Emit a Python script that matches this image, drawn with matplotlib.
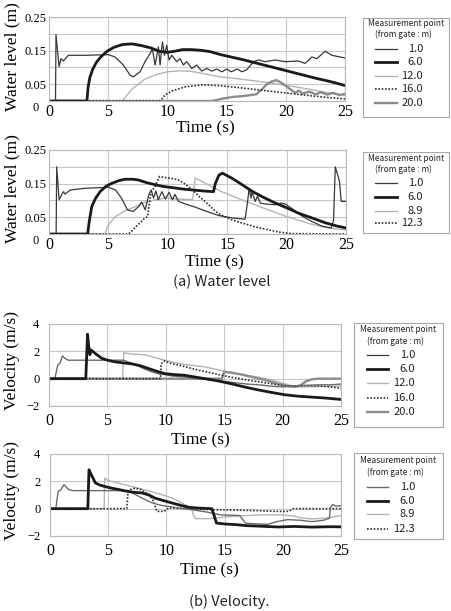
import matplotlib.pyplot as plt

plt.rcParams['font.family'] = ['Liberation Serif', 'DejaVu Serif']

W, H = 451, 611

# ---------------- (a) water level, upper panel ----------------
wa_t_10 = [0, 0.55, 0.59, 0.85, 1.01, 1.21, 1.63, 3.04, 5.01, 5.58, 6.28, 6.85, 7.13, 7.69, 8.11, 8.54,
           8.73, 8.96, 9.24, 9.38, 9.58, 9.75, 9.94, 10.14, 10.37, 10.79, 11.07, 11.35, 11.63, 12.06,
           12.48, 12.9, 13.32, 13.75, 14.17, 14.6, 15.0, 15.4, 15.9, 16.3, 16.7, 17.27, 17.69, 18.25,
           19.1, 19.94, 21.07, 21.63, 22.2, 22.62, 23.32, 23.89, 25.0]
wa_v_10 = [0, 0, 0.198, 0.102, 0.126, 0.119, 0.136, 0.136, 0.138, 0.131, 0.107, 0.077, 0.072, 0.087,
           0.117, 0.141, 0.156, 0.107, 0.161, 0.107, 0.176, 0.136, 0.166, 0.122, 0.136, 0.117, 0.126,
           0.107, 0.117, 0.097, 0.107, 0.089, 0.097, 0.089, 0.095, 0.087, 0.095, 0.087, 0.095, 0.087,
           0.093, 0.117, 0.122, 0.117, 0.122, 0.117, 0.119, 0.112, 0.131, 0.126, 0.148, 0.136, 0.128]
wa_t_60 = [0, 3.2, 3.3, 3.45, 3.7, 4.0, 4.4, 4.9, 5.5, 6.2, 7.0, 7.8, 8.6, 9.3, 10.0, 10.6, 11.3, 12.0,
           12.8, 13.6, 14.5, 15.5, 16.5, 17.5, 18.5, 19.5, 20.5, 21.5, 22.5, 23.5, 24.3, 25.0]
wa_v_60 = [0, 0, 0.04, 0.07, 0.095, 0.115, 0.132, 0.148, 0.16, 0.168, 0.17, 0.165, 0.158, 0.148, 0.145,
           0.148, 0.153, 0.153, 0.151, 0.147, 0.138, 0.13, 0.122, 0.113, 0.104, 0.095, 0.086, 0.077,
           0.068, 0.06, 0.053, 0.046]
wa_t_120 = [0, 6.2, 7.0, 8.1, 9.0, 10.0, 11.0, 12.0, 13.0, 14.4, 16.0, 18.0, 20.0, 22.0, 23.5, 25.0]
wa_v_120 = [0, 0, 0.035, 0.065, 0.078, 0.087, 0.09, 0.088, 0.082, 0.072, 0.066, 0.057, 0.047, 0.035,
            0.025, 0.017]
wa_t_160 = [0, 9.4, 9.8, 10.4, 11.5, 12.9, 14.3, 16.0, 18.0, 20.0, 22.0, 24.0, 25.0]
wa_v_160 = [0, 0, 0.018, 0.03, 0.042, 0.048, 0.046, 0.04, 0.032, 0.024, 0.016, 0.009, 0.006]
wa_t_200 = [0, 13.8, 14.5, 15.5, 16.5, 17.5, 18.0, 18.4, 18.8, 19.2, 19.6, 20.0, 20.5, 20.8, 21.1,
            21.4, 22.0, 22.5, 23.0, 23.5, 24.0, 24.5, 25.0]
wa_v_200 = [0, 0, 0.006, 0.012, 0.015, 0.02, 0.035, 0.05, 0.058, 0.062, 0.055, 0.045, 0.032, 0.024,
            0.031, 0.022, 0.028, 0.02, 0.026, 0.019, 0.024, 0.018, 0.021]

# ---------------- (a) water level, lower panel ----------------
wb_t_10 = [0, 0.6, 0.65, 0.85, 1.2, 1.35, 1.8, 3.0, 5.0, 5.6, 6.1, 6.6, 7.1, 7.55, 7.8, 8.1, 8.4, 8.6,
           8.8, 9.0, 9.2, 9.5, 9.8, 10.1, 10.4, 10.6, 10.9, 11.5, 12.3, 13.2, 14.3, 15.4, 16.5, 16.7,
           16.85, 17.0, 17.1, 17.35, 17.55, 17.8, 18.25, 19.1, 19.5, 19.9, 20.6, 21.35, 22.2, 23.0,
           23.75, 23.95, 24.1, 24.3, 24.45, 24.6, 25.0]
wb_v_10 = [0, 0, 0.2, 0.102, 0.126, 0.119, 0.131, 0.136, 0.139, 0.131, 0.107, 0.072, 0.067, 0.082,
           0.095, 0.072, 0.117, 0.131, 0.107, 0.128, 0.102, 0.126, 0.104, 0.124, 0.102, 0.118, 0.097,
           0.089, 0.08, 0.068, 0.055, 0.048, 0.044, 0.092, 0.136, 0.107, 0.126, 0.097, 0.112, 0.092,
           0.089, 0.087, 0.092, 0.089, 0.072, 0.052, 0.036, 0.023, 0.018, 0.04, 0.2, 0.176, 0.156,
           0.097, 0.097]
wb_t_60 = [0, 3.25, 3.4, 3.6, 3.9, 4.3, 4.8, 5.3, 5.9, 6.4, 7.0, 7.5, 8.2, 9.0, 9.7, 10.4, 11.2, 12.1,
           13.0, 13.85, 14.0, 14.3, 14.6, 15.4, 16.2, 17.1, 18.0, 19.0, 20.0, 21.0, 22.2, 23.2, 24.2, 25.0]
wb_v_60 = [0, 0, 0.04, 0.082, 0.105, 0.126, 0.142, 0.151, 0.159, 0.163, 0.163, 0.161, 0.153, 0.146,
           0.141, 0.138, 0.134, 0.131, 0.128, 0.126, 0.15, 0.175, 0.181, 0.166, 0.148, 0.127, 0.11,
           0.093, 0.078, 0.062, 0.047, 0.034, 0.024, 0.018]
wb_t_89 = [0, 4.7, 5.0, 5.6, 6.4, 7.3, 8.1, 9.0, 9.8, 10.9, 12.1, 12.3, 12.9, 14.4, 16.0, 18.0, 20.0,
           22.0, 23.5, 25.0]
wb_v_89 = [0, 0, 0.028, 0.052, 0.069, 0.082, 0.095, 0.102, 0.107, 0.104, 0.102, 0.166, 0.156, 0.128,
           0.105, 0.078, 0.052, 0.03, 0.018, 0.012]
wb_t_123 = [0, 6.7, 7.0, 7.5, 8.0, 8.3, 8.45, 8.6, 8.9, 9.3, 9.8, 10.4, 10.9, 11.5, 12.1, 12.7, 13.2,
            14.0, 14.4, 15.4, 16.5, 17.5, 18.5, 19.5, 20.5, 25.0]
wb_v_123 = [0, 0, 0.01, 0.028, 0.045, 0.052, 0.09, 0.126, 0.14, 0.171, 0.168, 0.165, 0.161, 0.148,
            0.13, 0.11, 0.095, 0.068, 0.058, 0.042, 0.03, 0.02, 0.012, 0.005, 0.001, 0]

# ---------------- (b) velocity, upper panel ----------------
va_t_10 = [0, 0.5, 0.75, 0.95, 1.15, 1.35, 1.65, 2.0, 6.4, 7.0, 7.6, 8.2, 8.8, 9.4, 9.9, 10.5, 11.2,
           12.0, 13.0, 14.0, 15.0, 16.0, 17.0, 18.0, 19.0, 20.0, 21.0, 22.0, 23.0, 24.0, 25.0]
va_v_10 = [0, 0, 1.0, 1.15, 1.67, 1.5, 1.35, 1.35, 1.35, 1.15, 0.95, 0.7, 0.5, 0.35, 0.3, 0.2, 0.15,
           0.1, 0.0, -0.1, -0.2, -0.3, -0.4, -0.45, -0.55, -0.6, -0.55, -0.5, -0.45, -0.45, -0.4]
va_t_60 = [0, 3.15, 3.25, 3.3, 3.4, 3.5, 3.6, 3.95, 4.5, 5.0, 5.65, 6.4, 7.1, 7.8, 8.5, 9.2, 9.9, 10.7,
           11.6, 12.5, 13.35, 14.5, 15.6, 16.7, 17.9, 19.0, 20.2, 21.3, 22.5, 23.7, 25.0]
va_v_60 = [0, 0, 2.2, 3.25, 2.4, 1.75, 2.1, 1.85, 1.5, 1.35, 1.23, 1.15, 1.08, 0.95, 0.75, 0.55, 0.37,
           0.3, 0.25, 0.12, 0.0, -0.17, -0.37, -0.6, -0.82, -1.0, -1.18, -1.28, -1.35, -1.42, -1.52]
va_t_120 = [0, 6.3, 6.4, 7.0, 8.2, 9.9, 11.5, 13.35, 15.0, 16.5, 18.0, 19.5, 20.5, 21.2, 22.0, 25.0]
va_v_120 = [0, 0, 1.9, 1.8, 1.75, 1.35, 1.05, 0.86, 0.55, 0.3, 0.1, -0.2, -0.45, -0.6, -0.6, -0.55]
va_t_160 = [0, 9.55, 9.6, 9.9, 10.3, 11.3, 12.9, 14.0, 15.5, 17.0, 18.5, 20.3, 22.0, 23.5, 25.0]
va_v_160 = [0, 0, 1.1, 1.3, 1.15, 0.95, 0.6, 0.4, 0.12, -0.1, -0.3, -0.55, -0.5, -0.55, -0.7]
va_t_200 = [0, 14.8, 15.0, 15.5, 16.5, 17.5, 18.5, 19.5, 20.5, 21.0, 21.5, 22.0, 22.5, 23.0, 25.0]
va_v_200 = [0, 0, 0.5, 0.45, 0.3, 0.1, -0.1, -0.35, -0.55, -0.6, -0.5, -0.2, -0.05, 0.0, 0.0]

# ---------------- (b) velocity, lower panel ----------------
vb_t_10 = [0, 0.5, 0.7, 0.9, 1.2, 1.6, 2.0, 6.6, 7.2, 7.9, 8.7, 9.5, 10.5, 11.5, 12.5, 13.5, 14.7,
           16.3, 16.8, 18.7, 19.5, 20.4, 21.5, 22.5, 23.5, 24.0, 24.1, 24.3, 24.6, 25.0]
vb_v_10 = [0, 0, 1.27, 1.35, 1.75, 1.4, 1.32, 1.32, 1.1, 0.78, 0.45, 0.25, 0.12, 0.0, -0.12, -0.25,
           -0.46, -0.5, -1.07, -1.15, -0.95, -0.8, -0.85, -0.95, -0.85, -0.7, 0.1, 0.3, 0.18, 0.22]
vb_t_60 = [0, 3.25, 3.3, 3.35, 3.5, 3.6, 3.9, 4.3, 4.8, 5.3, 5.9, 6.45, 7.2, 7.9, 8.5, 9.0, 9.7, 10.5,
           11.2, 11.9, 12.6, 13.3, 13.9, 14.1, 14.3, 15.0, 16.0, 16.8, 18.0, 19.6, 21.0, 22.5, 24.0, 25.0]
vb_v_60 = [0, 0, 1.5, 2.85, 2.55, 2.4, 1.88, 1.72, 1.6, 1.5, 1.4, 1.3, 1.2, 1.15, 1.0, 0.78, 0.6, 0.41,
           0.25, 0.1, 0.05, 0.02, 0.0, -0.5, -1.05, -1.12, -1.17, -1.24, -1.28, -1.34, -1.3, -1.35,
           -1.32, -1.33]
vb_t_89 = [0, 4.65, 4.7, 5.0, 5.5, 6.2, 7.0, 7.8, 8.6, 9.5, 10.5, 11.6, 12.2, 12.3, 12.5, 13.5, 14.3,
           15.0, 16.0, 17.0, 18.5, 20.0, 21.0, 21.6, 22.5, 23.5, 24.3, 25.0]
vb_v_89 = [0, 0, 2.24, 2.05, 1.95, 1.8, 1.63, 1.45, 1.27, 1.05, 0.78, 0.29, 0.0, -0.4, -0.73, -0.73,
           -0.7, -0.6, -0.55, -0.5, -0.45, -0.45, -0.55, -0.68, -0.75, -0.7, -0.62, -0.5]
vb_t_123 = [0, 6.6, 6.7, 6.9, 7.3, 7.8, 8.5, 8.9, 9.1, 9.2, 9.8, 10.2, 11.5, 13.9, 16.8, 19.6, 20.5,
            20.9, 25.0]
vb_v_123 = [0, 0, 1.2, 1.4, 1.5, 1.4, 1.02, 0.54, 0.0, -0.2, -0.2, 0.05, 0.0, -0.07, -0.12, -0.2,
            -0.2, 0.0, 0.0]

labels_a = ['1.0', '6.0', '12.0', '16.0', '20.0']
labels_b = ['1.0', '6.0', '8.9', '12.3']

STY = {
    'thin': dict(color='#383838', lw=0.9),
    'thick': dict(color='#1a1a1a', lw=2.0),
    'light': dict(color='#b4b4b4', lw=1.0),
    'mid': dict(color='#8c8c8c', lw=1.7),
    'dot': dict(color='#303030', lw=1.2, ls=(0, (1, 1))),
    'gray': dict(color='#6a6a6a', lw=1.0),
}


def rect(x0, y0, x1, y1):
    return [x0 / W, 1 - y1 / H, (x1 - x0) / W, (y1 - y0) / H]


def frame(ax, water, xpad, ypad):
    ax.set_xlim(0, 25)
    ax.set_xticks(range(0, 26, 5))
    if water:
        ax.set_ylim(0, 0.25)
        ax.set_yticks([0, 0.05, 0.1, 0.15, 0.2, 0.25])
        ax.set_yticklabels(['', '0.05', '', '0.15', '', '0.25'])
        ax.annotate('0', xy=(0, 0), xycoords='axes fraction', xytext=(-13, -7),
                    textcoords='offset pixels', ha='center', va='center', fontsize=9)
    else:
        ax.set_ylim(-2, 4)
        ax.set_yticks([-2, 0, 2, 4])
    ax.grid(True, color='#c8c8c8', lw=0.8)
    ax.set_axisbelow(True)
    for s in ax.spines.values():
        s.set_color('#b8b8b8')
        s.set_linewidth(0.8)
    ax.tick_params(axis='x', length=0, labelsize=11.5, pad=xpad)
    ax.tick_params(axis='y', length=0, labelsize=9, pad=ypad)


def legend_box(box, title_y, entry_y, lx0, lx1, lxr, labels, styles):
    x0, y0, x1, y1 = box
    lax = fig.add_axes(rect(x0, y0, x1, y1))
    lax.set_xlim(x0, x1)
    lax.set_ylim(y1, y0)
    lax.set_xticks([])
    lax.set_yticks([])
    for s in lax.spines.values():
        s.set_color('#a8a8a8')
        s.set_linewidth(0.8)
    cx = (x0 + x1) / 2
    lax.text(cx, title_y[0], 'Measurement point', ha='center', va='center',
             fontsize=6, family='Noto Sans CJK JP', color='#222222')
    lax.text(cx - 3, title_y[1], '(from gate : m)', ha='center', va='center',
             fontsize=6, family='Noto Sans CJK JP', color='#222222')
    for y, lab, st in zip(entry_y, labels, styles):
        lax.plot([lx0, lx1], [y, y], **STY[st])
        lax.text(lxr, y, lab, ha='right', va='center', fontsize=8,
                 family='Noto Sans CJK JP', color='#222222')


fig = plt.figure(figsize=(W / 100, H / 100), dpi=100)

ax1 = fig.add_axes(rect(49, 17, 345, 101))
frame(ax1, True, 2.5, 1.5)
ax1.plot(wa_t_120, wa_v_120, **STY['light'])
ax1.plot(wa_t_200, wa_v_200, **STY['mid'])
ax1.plot(wa_t_160, wa_v_160, **STY['dot'])
ax1.plot(wa_t_10, wa_v_10, **STY['thin'])
ax1.plot(wa_t_60, wa_v_60, **STY['thick'])

ax2 = fig.add_axes(rect(49, 150, 346, 234))
frame(ax2, True, 2.5, 1.5)
ax2.plot(wb_t_89, wb_v_89, **STY['light'])
ax2.plot(wb_t_123, wb_v_123, **STY['dot'])
ax2.plot(wb_t_10, wb_v_10, **STY['thin'])
ax2.plot(wb_t_60, wb_v_60, **STY['thick'])

ax3 = fig.add_axes(rect(49, 324, 341, 406))
frame(ax3, False, 5, 7)
ax3.plot(va_t_120, va_v_120, **STY['light'])
ax3.plot(va_t_200, va_v_200, **STY['mid'])
ax3.plot(va_t_160, va_v_160, **STY['dot'])
ax3.plot(va_t_10, va_v_10, **STY['gray'])
ax3.plot(va_t_60, va_v_60, **STY['thick'])

ax4 = fig.add_axes(rect(50, 454, 341, 536))
frame(ax4, False, 5, 7)
ax4.plot(vb_t_89, vb_v_89, **STY['light'])
ax4.plot(vb_t_123, vb_v_123, **STY['dot'])
ax4.plot(vb_t_10, vb_v_10, **STY['gray'])
ax4.plot(vb_t_60, vb_v_60, **STY['thick'])

# axis titles
for (x, y), s in zip([(205, 128), (214, 262), (200, 440), (209, 570)], ['Time (s)'] * 4):
    fig.text(x / W, 1 - y / H, s, ha='center', va='center', fontsize=12.5)
for (x, y), s in zip([(12, 57), (12, 189), (12, 361), (12, 490)],
                     ['Water level (m)', 'Water level (m)', 'Velocity (m/s)', 'Velocity (m/s)']):
    fig.text(x / W, 1 - y / H, s, ha='center', va='center', rotation=90, fontsize=12.5)

fig.text(222 / W, 1 - 282 / H, '(a) Water level', ha='center', va='center', fontsize=10.5,
         family='Noto Sans CJK JP', color='#222222')
fig.text(229 / W, 1 - 602 / H, '(b) Velocity.', ha='center', va='center', fontsize=10.5,
         family='Noto Sans CJK JP', color='#222222')

legend_box((363, 18, 449, 117), (24, 34.3), [49.3, 62.3, 76, 89.3, 102.7], 375, 397, 423,
           labels_a, ['thin', 'thick', 'light', 'dot', 'mid'])
legend_box((363, 152, 449, 233), (158.3, 169.3), [183.3, 196.7, 210.7, 223.3], 375, 397, 423,
           labels_b, ['thin', 'thick', 'light', 'dot'])
legend_box((354, 323, 443, 427), (330, 341), [355, 369.3, 383.3, 397.7, 411.7], 367, 388, 415,
           labels_a, ['thin', 'thick', 'light', 'dot', 'mid'])
legend_box((354, 453, 443, 539), (460.7, 472), [486.7, 500.7, 514, 528.7], 367, 388, 415,
           labels_b, ['gray', 'thick', 'light', 'dot'])

fig.savefig('out.png', dpi=100)
